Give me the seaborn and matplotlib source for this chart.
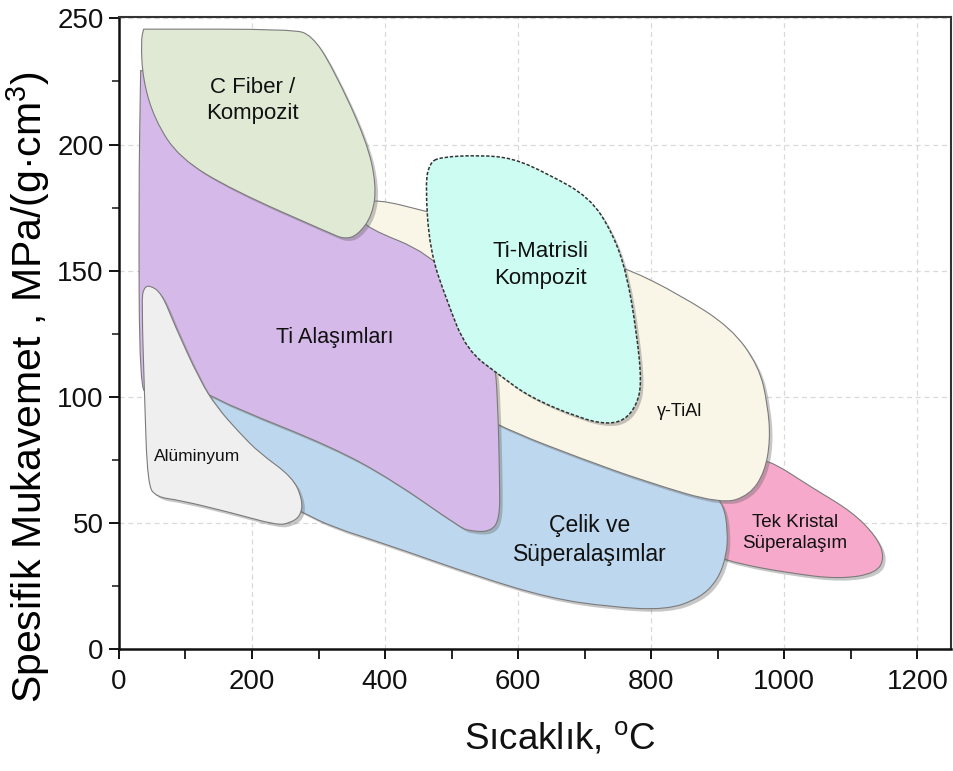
import numpy as np
import matplotlib
matplotlib.use("Agg")
import matplotlib.pyplot as plt
from matplotlib.path import Path
from matplotlib.patches import PathPatch
from matplotlib import patheffects
import seaborn as sns

# ---- region outlines (temperature °C, specific strength MPa/(g·cm³)) ----
# each outline is a closed ring of control vertices; repeated vertices give a sharp corner
cfiber_x = [37, 37, 261, 290, 321, 372, 387, 381, 359, 339, 317, 171, 91, 54, 36, 33]
cfiber_y = [245.7, 245.7, 245.7, 243.3, 230.6, 201.7, 183.9, 172, 164.1, 162.5, 164.9, 181.9, 194.6, 209.6, 225.5, 241]

ti_x = [32.6, 32.6, 196.5, 331.7, 361.8, 372.3, 467, 527.1, 564.7, 569.2, 572.2, 572.2, 557.2, 527.1, 512.1,
        411.4, 321.2, 170.9, 131.8, 91.2, 46.1, 31.1, 29.6]
ti_y = [229.4, 229.4, 213.6, 197.7, 172, 166.9, 157, 138.3, 114.6, 98.7, 67, 51.2, 46.5, 46.9, 48.4,
        67, 80.1, 96, 101.5, 104.7, 101.9, 102.7, 177.9]

steel_x = [128.8, 271.6, 451.9, 557.2, 602.3, 692.5, 797.7, 890.9, 908.9, 914.9, 913.4, 899.8, 872.8,
           823.2, 737.5, 647.4, 542.2, 396.4, 321.2, 274.6, 211.5, 143.9, 121.3]
steel_y = [103.5, 102.7, 98.7, 96.8, 88.8, 80.9, 71.8, 62.3, 57.1, 47.2, 37.3, 27.4, 20.3,
           15.6, 16.8, 20.3, 28.6, 42.1, 48.4, 54.4, 63.1, 86.9, 100.7]

tial_x = [361.8, 387.4, 460.4, 602.3, 722.5, 763.1, 842.8, 920, 962, 975, 979, 970.5, 948, 905.9,
          793.2, 692.5, 591.8, 542.2, 512.1, 421.9, 364.8]
tial_y = [176, 178.4, 173.6, 164.1, 153.4, 151, 140.5, 127.5, 112, 97, 82.9, 70.2, 61.1, 57.5,
          66.3, 75.8, 86.1, 92.8, 102.7, 138.3, 168.1]

sx_x = [970.5, 1042.5, 1102.6, 1138.7, 1150.8, 1138.7, 1083, 1008, 932.9, 895.4, 872.8, 872.8, 932.9]
sx_y = [76.2, 63.9, 54.4, 44.5, 36.6, 30.2, 27.8, 30.2, 33.8, 37, 43.3, 59.1, 74.2]

al_x = [46.1, 64.2, 83.7, 121.3, 146.8, 181.4, 211.5, 261.1, 276.1, 273.1, 256.6, 237, 170.9, 91.2,
        56.7, 43.1, 38.6, 34.1, 37.1]
al_y = [144.3, 141.1, 128.4, 106.7, 96, 85.7, 77.7, 68.2, 59.1, 52.8, 50, 49.2, 54, 59.1,
        60.3, 65.1, 98.7, 138.3, 143.1]

tmc_x = [482, 542.2, 592, 642.9, 707.5, 742, 763.1, 778.1, 785.6, 778.1, 760.1, 733, 692.5, 617.3,
         572.2, 522.6, 492.5, 467, 460.4, 467]
tmc_y = [195, 195.8, 194.6, 188.6, 179.1, 164.9, 149, 125.3, 105.5, 96.8, 90.8, 89.2, 91.6, 99.9,
         108.6, 118.5, 138.3, 158.1, 184.7, 192.6]

# ---- labels ----
label_text = ["C Fiber /\nKompozit", "Ti Alaşımları", "Ti-Matrisli\nKompozit", "γ-TiAl",
              "Alüminyum", "Çelik ve\nSüperalaşımlar", "Tek Kristal\nSüperalaşım"]
label_x = [201, 324, 633, 843, 117, 707, 1016]
label_y = [217.5, 123.7, 152.2, 94.1, 76.2, 43.3, 46.1]
label_size = [16, 15.5, 16, 13, 12.5, 16.5, 13.5]

x_ticks = [0, 200, 400, 600, 800, 1000, 1200]
y_ticks = [0, 50, 100, 150, 200, 250]

sns.set_theme(style="ticks")
plt.rcParams["font.family"] = ["Liberation Sans", "DejaVu Sans"]
plt.rcParams["mathtext.fontset"] = "custom"
plt.rcParams["mathtext.rm"] = "Liberation Sans"


def blob(xs, ys):
    """Closed smooth outline: quadratic Béziers through edge midpoints."""
    pts = np.column_stack([xs, ys]).astype(float)
    mids = (pts + np.roll(pts, -1, axis=0)) / 2
    verts = [mids[-1]]
    codes = [Path.MOVETO]
    for p, m in zip(pts, mids):
        verts += [p, m]
        codes += [Path.CURVE3, Path.CURVE3]
    verts.append(mids[-1])
    codes.append(Path.CLOSEPOLY)
    return Path(verts, codes)


fig = plt.figure(figsize=(9.54, 7.71), dpi=100)
ax = fig.add_axes([0.1247, 0.1578, 0.8718, 0.8201])

shadow = [patheffects.SimplePatchShadow(offset=(2.2, -2.2), shadow_rgbFace="#606060", alpha=0.35),
          patheffects.Normal()]

regions = [
    (sx_x, sx_y, "#f6a9ca", "-"),
    (steel_x, steel_y, "#bdd7ee", "-"),
    (tial_x, tial_y, "#f9f6e7", "-"),
    (ti_x, ti_y, "#d5b9e8", "-"),
    (cfiber_x, cfiber_y, "#dfe9d4", "-"),
    (al_x, al_y, "#efefef", "-"),
    (tmc_x, tmc_y, "#cdfcf3", "--"),
]
for i, (xs, ys, fc, ls) in enumerate(regions):
    if ls == "--":
        patch = PathPatch(blob(xs, ys), facecolor=fc, edgecolor="#333333", lw=1.1,
                          linestyle=(0, (2.2, 1.2)), zorder=2 + i)
    else:
        patch = PathPatch(blob(xs, ys), facecolor=fc, edgecolor="#7b7b7b", lw=0.8, zorder=2 + i)
    patch.set_path_effects(shadow)
    ax.add_patch(patch)

for t, x, y, s in zip(label_text, label_x, label_y, label_size):
    ax.text(x, y, t, ha="center", va="center", fontsize=s,
            color="#111111", linespacing=1.35, zorder=20)

ax.set_xlim(0, 1250)
ax.set_ylim(0, 250.5)
ax.set_xticks(x_ticks)
ax.set_yticks(y_ticks)
ax.set_xticks(np.arange(100, 1250, 200), minor=True)
ax.set_yticks(np.arange(25, 250, 50), minor=True)
ax.grid(True, which="major", color="#d9d9d9", linestyle=(0, (4, 3)), lw=0.9, zorder=0)
ax.set_axisbelow(True)

ax.tick_params(axis="both", which="major", direction="out", length=7, width=1.4,
               labelsize=20, colors="#111111")
ax.tick_params(axis="x", which="major", pad=7)
ax.tick_params(axis="y", which="major", pad=4)
ax.tick_params(axis="x", which="minor", direction="out", length=7, width=1.4)
ax.tick_params(axis="y", which="minor", direction="out", length=5, width=1.2)

for side in ["left", "bottom"]:
    ax.spines[side].set_linewidth(1.8)
    ax.spines[side].set_color("#111111")
for side in ["top", "right"]:
    ax.spines[side].set_linewidth(1.5)
    ax.spines[side].set_color("#333333")

ax.set_xlabel("Sıcaklık, $^{\\rm o}$C", fontsize=26.5, color="#111111")
ax.xaxis.set_label_coords(0.53, -0.113)
ax.set_ylabel("Spesifik Mukavemet , MPa/(g·cm$^{\\rm 3}$)", fontsize=29.5, color="#000000")
ax.yaxis.set_label_coords(-0.08, 0.415)

fig.savefig("out.png", dpi=100)
